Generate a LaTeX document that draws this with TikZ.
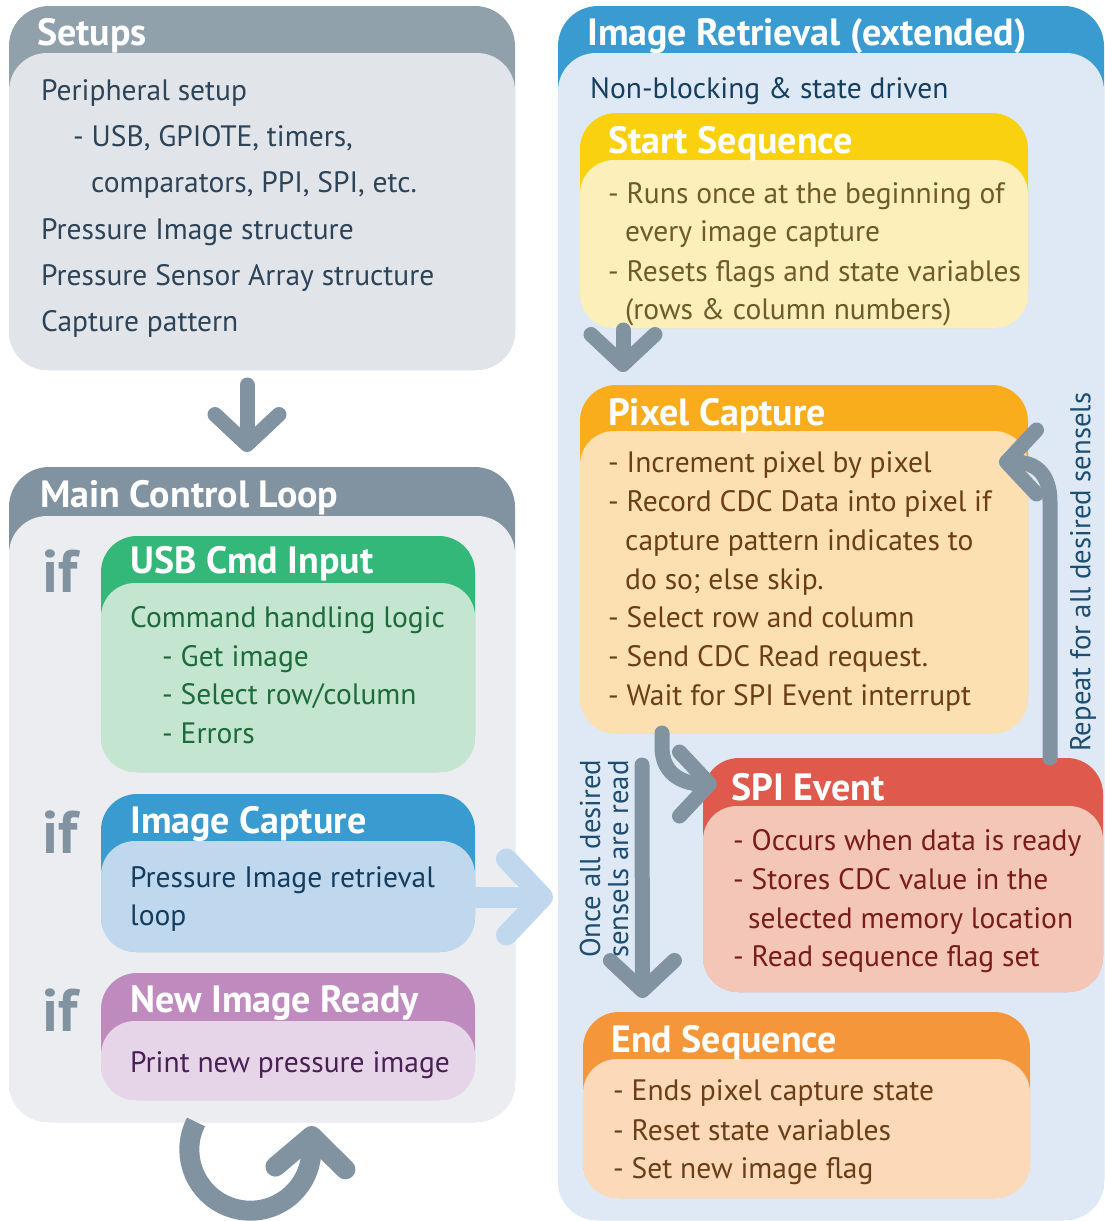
\documentclass[tikz,border=0pt]{standalone}
\usepackage{fontspec}
\setmainfont{PT Sans}
\usetikzlibrary{arrows.meta,calc}

% palette
\definecolor{setupshead}{HTML}{90A1AC}
\definecolor{setupsbody}{HTML}{E1E5EA}
\definecolor{setupstext}{HTML}{2D4358}
\definecolor{mainhead}{HTML}{8193A0}
\definecolor{mainbody}{HTML}{EBEDF1}
\definecolor{arrowgray}{HTML}{8193A0}
\definecolor{usbhead}{HTML}{34B87A}
\definecolor{usbbody}{HTML}{C4E5D0}
\definecolor{usbtext}{HTML}{1E6B3A}
\definecolor{caphead}{HTML}{3A9BD0}
\definecolor{capbody}{HTML}{C0D8EE}
\definecolor{captext}{HTML}{143C5E}
\definecolor{newhead}{HTML}{BF8BBF}
\definecolor{newbody}{HTML}{E6D5E8}
\definecolor{newtext}{HTML}{4A1F55}
\definecolor{rethead}{HTML}{3A9BD0}
\definecolor{retbody}{HTML}{DFE9F5}
\definecolor{rettext}{HTML}{163E5E}
\definecolor{starthead}{HTML}{F9D10E}
\definecolor{startbody}{HTML}{FDEFB9}
\definecolor{starttext}{HTML}{6F5A2B}
\definecolor{pixhead}{HTML}{F9AD1C}
\definecolor{pixbody}{HTML}{FDE0B1}
\definecolor{pixtext}{HTML}{6B3E17}
\definecolor{spihead}{HTML}{DF594C}
\definecolor{spibody}{HTML}{F4C6B8}
\definecolor{spitext}{HTML}{7B1C1C}
\definecolor{endhead}{HTML}{F6963A}
\definecolor{endbody}{HTML}{FCD9B8}
\definecolor{endtext}{HTML}{6B3E17}
\definecolor{notetext}{HTML}{1C4D72}

\newcommand\pbody{\fontsize{29.5}{34}\selectfont}
\newcommand\pnote{\fontsize{28.7}{28}\selectfont}
\newcommand\ptitle{\bfseries\fontsize{38}{44}\selectfont}
\newcommand\pif{\bfseries\fontsize{60}{66}\selectfont}

\tikzset{
  panel/.style={inner sep=0pt, outer sep=0pt, anchor=north west, rounded corners=#1},
  ttl/.style={anchor=base west, inner sep=0pt, text=white, font=\ptitle},
  txt/.style={anchor=base west, inner sep=0pt, font=\pbody},
  iftxt/.style={anchor=base west, inner sep=0pt, text=arrowgray, font=\pif},
  note/.style={inner sep=0pt, text=notetext, font=\pnote, rotate=90, align=left},
  garrow/.style={draw=arrowgray, line width=15pt, line cap=round,
    -{Straight Barb[length=30pt,width=64pt,round]}},
  barrow/.style={draw=capbody, line width=21pt,
    -{Straight Barb[length=36pt,width=76pt,round]}},
}

\begin{document}
\begin{tikzpicture}[x=1pt,y=-1pt]
\useasboundingbox (0,0) rectangle (1104,1221);

% ---------- Setups ----------
\node[panel=40pt, fill=setupshead, minimum width=506pt, minimum height=364pt] (setups) at (9,6) {};
\node[panel=38pt, fill=setupsbody, minimum width=506pt, minimum height=317pt] (setupsb) at (9,53) {};
\node[ttl] (setupst) at (37,45) {Setups};
\foreach \dx/\dy/\t [count=\i] in {
  0/100/{Peripheral setup},
  32/146/{- USB, GPIOTE, timers,},
  50/192/{comparators, PPI, SPI, etc.},
  0/239/{Pressure Image structure},
  0/285/{Pressure Sensor Array structure},
  0/331/{Capture pattern}}
  \node[txt, text=setupstext] (setupsl\i) at (41+\dx,\dy) {\t};

% ---------- Main Control Loop ----------
\node[panel=40pt, fill=mainhead, minimum width=506pt, minimum height=655pt] (main) at (9,467) {};
\node[panel=38pt, fill=mainbody, minimum width=506pt, minimum height=606pt] (mainb) at (9,516) {};
\node[ttl] (maint) at (40,507) {Main Control Loop};

\node[iftxt] (if1) at (42,592) {if};
\node[iftxt] (if2) at (42,853) {if};
\node[iftxt] (if3) at (42,1031) {if};

% USB Cmd Input
\node[panel=36pt, fill=usbhead, minimum width=374pt, minimum height=236pt] (usb) at (101,536) {};
\node[panel=34pt, fill=usbbody, minimum width=374pt, minimum height=189pt] (usbb) at (101,583) {};
\node[ttl] (usbt) at (130,573) {USB Cmd Input};
\foreach \dx/\dy/\t [count=\i] in {
  0/627/{Command handling logic},
  32/666/{- Get image},
  32/704/{- Select row/column},
  32/743/{- Errors}}
  \node[txt, text=usbtext] (usbl\i) at (130+\dx,\dy) {\t};

% Image Capture
\node[panel=36pt, fill=caphead, minimum width=374pt, minimum height=158pt] (imgcap) at (101,794) {};
\node[panel=34pt, fill=capbody, minimum width=374pt, minimum height=111pt] (imgcapb) at (101,841) {};
\node[ttl] (imgcapt) at (130,833) {Image Capture};
\node[txt, text=captext] (imgcapl1) at (130,887) {Pressure Image retrieval};
\node[txt, text=captext] (imgcapl2) at (130,925) {loop};

% New Image Ready
\node[panel=36pt, fill=newhead, minimum width=374pt, minimum height=127pt] (newimg) at (101,973) {};
\node[panel=34pt, fill=newbody, minimum width=374pt, minimum height=79pt] (newimgb) at (101,1021) {};
\node[ttl] (newimgt) at (130,1012) {New Image Ready};
\node[txt, text=newtext] (newimgl1) at (130,1072) {Print new pressure image};

% ---------- Image Retrieval (extended) ----------
\node[panel=40pt, fill=rethead, minimum width=546pt, minimum height=1214pt] (ret) at (558,6) {};
\node[panel=38pt, fill=retbody, minimum width=546pt, minimum height=1167pt] (retb) at (558,53) {};
\node[ttl] (rett) at (587,45) {Image Retrieval (extended)};
\node[txt, text=rettext] (retl1) at (590,98) {Non-blocking \& state driven};

% Start Sequence
\node[panel=36pt, fill=starthead, minimum width=448pt, minimum height=215pt] (start) at (580,113) {};
\node[panel=34pt, fill=startbody, minimum width=448pt, minimum height=168pt] (startb) at (580,160) {};
\node[ttl] (startt) at (608,153) {Start Sequence};
\foreach \dx/\dy/\t [count=\i] in {
  0/203/{- Runs once at the beginning of},
  17/241/{every image capture},
  0/281/{- Resets flags and state variables},
  17/319/{(rows \& column numbers)}}
  \node[txt, text=starttext] (startl\i) at (608+\dx,\dy) {\t};

% Pixel Capture
\node[panel=36pt, fill=pixhead, minimum width=448pt, minimum height=348pt] (pixel) at (580,385) {};
\node[panel=34pt, fill=pixbody, minimum width=448pt, minimum height=302pt] (pixelb) at (580,431) {};
\node[ttl] (pixelt) at (608,425) {Pixel Capture};
\foreach \dx/\dy/\t [count=\i] in {
  0/472/{- Increment pixel by pixel},
  0/511/{- Record CDC Data into pixel if},
  17/550/{capture pattern indicates to},
  17/589/{do so; else skip.},
  0/627/{- Select row and column},
  0/666/{- Send CDC Read request.},
  0/705/{- Wait for SPI Event interrupt}}
  \node[txt, text=pixtext] (pixell\i) at (608+\dx,\dy) {\t};

% SPI Event
\node[panel=36pt, fill=spihead, minimum width=400pt, minimum height=234pt] (spi) at (703,758) {};
\node[panel=34pt, fill=spibody, minimum width=400pt, minimum height=186pt] (spib) at (703,806) {};
\node[ttl] (spit) at (731,800) {SPI Event};
\foreach \dx/\dy/\t [count=\i] in {
  0/850/{- Occurs when data is ready},
  0/889/{- Stores CDC value in the},
  15/928/{selected memory location},
  0/966/{- Read sequence flag set}}
  \node[txt, text=spitext] (spil\i) at (733+\dx,\dy) {\t};

% End Sequence
\node[panel=36pt, fill=endhead, minimum width=447pt, minimum height=186pt] (endseq) at (583,1012) {};
\node[panel=34pt, fill=endbody, minimum width=447pt, minimum height=139pt] (endseqb) at (583,1059) {};
\node[ttl] (endseqt) at (611,1052) {End Sequence};
\foreach \dx/\dy/\t [count=\i] in {
  0/1100/{- Ends pixel capture state},
  0/1140/{- Reset state variables},
  0/1178/{- Set new image flag}}
  \node[txt, text=endtext] (endseql\i) at (613+\dx,\dy) {\t};

% ---------- connectors ----------
% setups -> main loop
\draw[garrow] ($(setups.south)+(-15,15)$) -- ($(main.north)+(-15,-15)$);

% main loop repeats: arc under the box, ending in a short upward stroke
\coordinate (loop0) at ($(main.south)+(-66,0)$);
\coordinate (loopc) at ($(loop0)+(54,28)$);
\draw[draw=arrowgray, line width=20pt,
      -{Straight Barb[length=32pt,width=70pt,round]}]
  (loop0) arc[start angle=207, end angle=8, radius=61]
  -- ($(loopc)+(62,-24)$);

% image capture -> image retrieval
\draw[barrow] ($(imgcap.east)+(0,24)$) -- ($(ret.west |- imgcap.east)+(-5,24)$);

% start -> pixel capture
\draw[garrow] ($(start.south)+(-181,2)$) -- ($(pixel.north)+(-181,-13)$);

% pixel capture -> spi event
\coordinate (ps0) at ($(pixel.south)+(-142,0)$);
\coordinate (ps1) at ($(spi.north west)+(14,26)$);
\draw[garrow] (ps0) -- ($(ps0)+(0,14)$)
  .. controls ($(ps0)+(0,44)$) and ($(ps1)+(-30,0)$) .. (ps1);

% spi event -> pixel capture (repeat)
\coordinate (rs0) at ($(spi.north)+(147,0)$);
\coordinate (rs1) at ($(pixel.north east)+(-29,77)$);
\draw[garrow] (rs0) -- ($(rs0)+(0,-256)$)
  .. controls ($(rs0)+(0,-292)$) and ($(rs1)+(28,0)$) .. (rs1);

% all read -> end sequence
\draw[garrow] ($(pixel.south)+(-162,32)$) -- ($(endseq.north)+(-164,-14)$);

% connector notes
\node[note, anchor=west] (oncenote) at (604,958) {Once all desired\\sensels are read};
\node[note, anchor=west] (repeatnote) at (1083,752) {Repeat for all desired sensels};

\end{tikzpicture}
\end{document}
